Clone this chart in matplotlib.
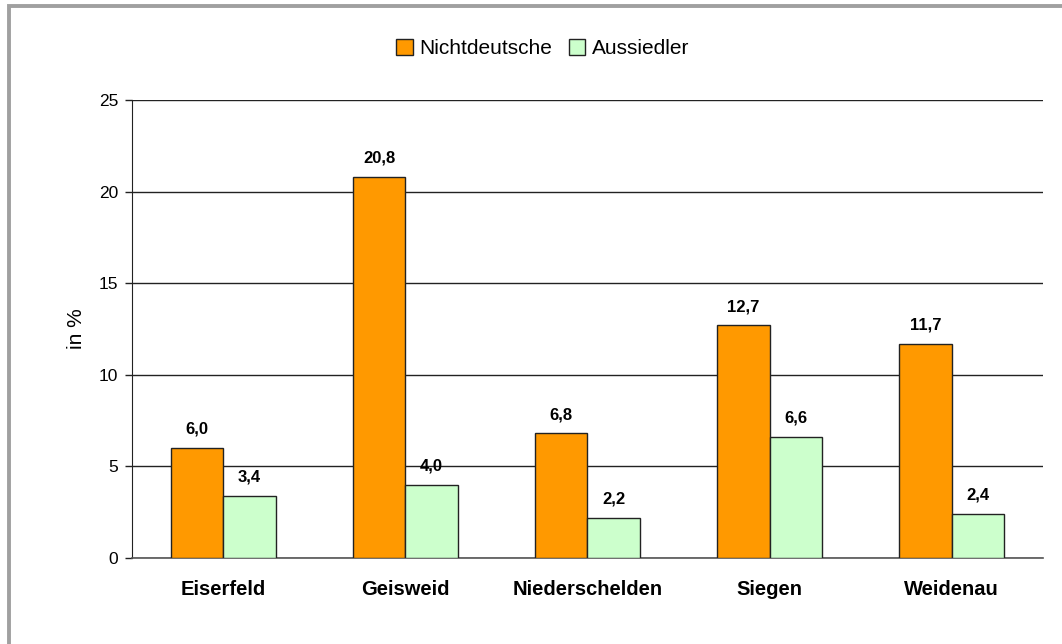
import numpy as np
import matplotlib.pyplot as plt
from matplotlib.patches import Rectangle

# -----------------------------
# DATA
# -----------------------------
orte = ["Eiserfeld", "Geisweid", "Niederschelden", "Siegen", "Weidenau"]
nichtdeutsche = [6.0, 20.8, 6.8, 12.7, 11.7]
aussiedler = [3.4, 4.0, 2.2, 6.6, 2.4]
y_ticks = [0, 5, 10, 15, 20, 25]

ORANGE = "#FF9900"
GREEN = "#CCFFCC"
EDGE = "#222222"

plt.rcParams["font.family"] = ["Liberation Sans", "DejaVu Sans"]

fig = plt.figure(figsize=(10.62, 6.44), dpi=100)
ax = fig.add_axes([0.1243, 0.1335, 0.8577, 0.7112])

x = np.arange(len(orte))
w = 0.288

bars1 = ax.bar(x - w / 2, nichtdeutsche, w, color=ORANGE, edgecolor=EDGE,
               linewidth=1, label="Nichtdeutsche", zorder=3)
bars2 = ax.bar(x + w / 2, aussiedler, w, color=GREEN, edgecolor=EDGE,
               linewidth=1, label="Aussiedler", zorder=3)

# value labels above the bars
for bars, vals in ((bars1, nichtdeutsche), (bars2, aussiedler)):
    for b, v in zip(bars, vals):
        ax.annotate(f"{v:.1f}".replace(".", ","),
                    (b.get_x() + b.get_width() / 2, v),
                    xytext=(0, 8), textcoords="offset points",
                    ha="center", va="bottom", fontsize=12, fontweight="bold")

ax.set_xlim(-0.5, len(orte) - 0.5)
ax.set_ylim(0, 25)
ax.set_yticks(y_ticks)
ax.set_xticks(x)
ax.set_xticklabels(orte, fontsize=14.5, fontweight="bold")
ax.tick_params(axis="x", length=0, pad=16)
ax.tick_params(axis="y", length=5, width=1, color="#222222", labelsize=12.5, pad=5)

ax.yaxis.grid(True, color="#222222", linewidth=1, zorder=0)
ax.set_axisbelow(True)

for side in ("top", "right"):
    ax.spines[side].set_visible(False)
ax.spines["left"].set_color("#222222")
ax.spines["bottom"].set_color("#555555")
ax.spines["bottom"].set_linewidth(1.2)

ax.set_ylabel("in %", fontsize=15, labelpad=9)

fig.legend(loc="center", bbox_to_anchor=(0.511, 0.925), ncol=2, frameon=False,
           fontsize=15, handlelength=0.8, handleheight=0.8, handletextpad=0.3,
           columnspacing=0.8)

# grey frame around the chart area
fig.patches.append(Rectangle((8.5 / 1062, -0.05), 1.1, 1 - 6 / 644 + 0.05,
                             transform=fig.transFigure, fill=False,
                             edgecolor="#A0A0A0", linewidth=2.8))

fig.savefig("out.png", dpi=100, facecolor="white")
